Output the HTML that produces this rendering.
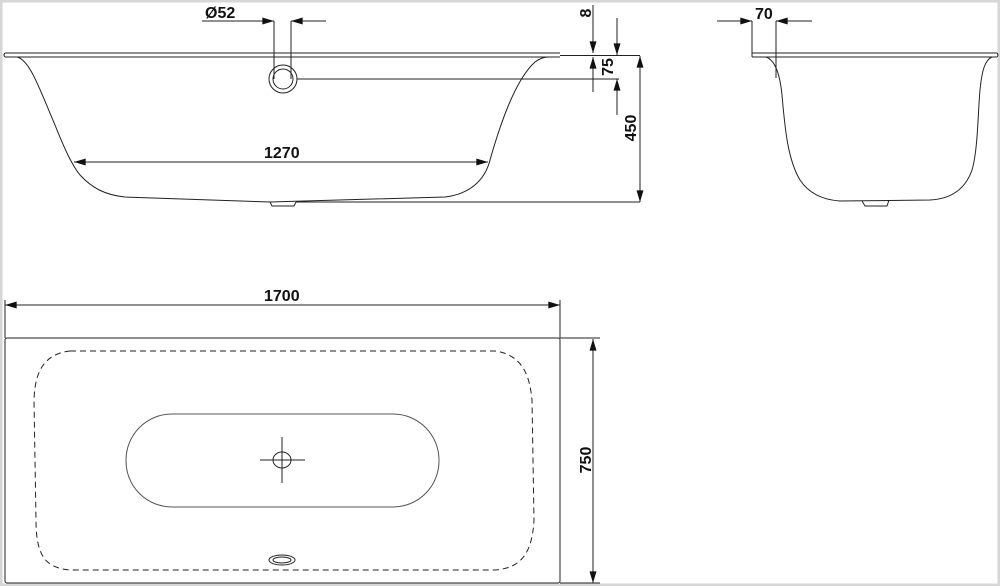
<!DOCTYPE html>
<html><head><meta charset="utf-8"><style>
html,body{margin:0;padding:0;background:#fff;}
svg{display:block;}
text{font-family:"Liberation Sans",Arial,sans-serif;font-weight:bold;font-size:16px;fill:#111;}
</style></head><body>
<svg width="1000" height="586" viewBox="0 0 1000 586" xmlns="http://www.w3.org/2000/svg">
<defs>
<marker id="a" viewBox="0 0 10 6" refX="10" refY="3" markerWidth="17" markerHeight="7" markerUnits="userSpaceOnUse" orient="auto"><path d="M0,0 L10,3 L0,6 Z" fill="#111"/></marker>
</defs>
<rect x="1" y="1" width="998" height="584" fill="#fff" stroke="#d6d6d6" stroke-width="3"/>
<g fill="none" stroke="#222" stroke-width="1">
<path d="M5,53 L560,53 M5,57 L560,57 M5,53 Q3,55 5,57" />
<path d="M560,55.5 L640,55.5"/>
<path d="M17,57 C30,60 40,90 55,125 C65,150 72,165 80,175 C92,188 105,195 125,197 L270,202 L445,197 C470,194 485,180 490,160 C500,125 515,80 535,62 C540,58 545,57 549,57"/>
<path d="M270,202 L272,206 L294,206 L296,202"/>
<path d="M296,202 L640,202"/>
<circle cx="283" cy="79" r="14"/><circle cx="283" cy="79" r="10"/>
<path d="M274,21 L274,79 M291,21 L291,79"/>
<path d="M297,79 L619,79"/>
<path d="M202,21 L274,21" marker-end="url(#a)"/>
<path d="M326,21 L291,21" marker-end="url(#a)"/>
<path d="M593,5 L593,53" marker-end="url(#a)"/>
<path d="M593,92 L593,57" marker-end="url(#a)"/>
<path d="M617,18 L617,55" marker-end="url(#a)"/>
<path d="M617,115 L617,79" marker-end="url(#a)"/>
<path d="M640,128 L640,56" marker-end="url(#a)"/>
<path d="M640,128 L640,202" marker-end="url(#a)"/>
<path d="M282,162 L74,162" marker-end="url(#a)"/>
<path d="M282,162 L488,162" marker-end="url(#a)"/>
<path d="M752,53 L997,53 M752,57 L997,57 M997,53 Q999,55 997,57 M752,53 L752,57"/>
<path d="M766,57 C775,60 780,75 782,95 C785,130 788,160 800,180 C810,195 825,200 840,201 L930,200 C950,199 965,190 972,170 C978,150 978,110 980,90 C982,70 985,60 992,57"/>
<path d="M862,201 L865,206 L887,206 L889,200"/>
<path d="M752,21 L752,53 M776,21 L776,78"/>
<path d="M717,21 L752,21" marker-end="url(#a)"/>
<path d="M812,21 L776,21" marker-end="url(#a)"/>
<rect x="5" y="338" width="555" height="245" rx="2"/>
<path d="M5,300 L5,338 M560,300 L560,338 M560,338 L600,338 M560,583 L600,583"/>
<path d="M282,305 L5,305" marker-end="url(#a)"/>
<path d="M282,305 L560,305" marker-end="url(#a)"/>
<path d="M593,460 L593,339" marker-end="url(#a)"/>
<path d="M593,460 L593,583" marker-end="url(#a)"/>
<path d="M70,351 L495,351 C525,355 530,380 532,400 L534,520 C532,555 520,568 495,570 L70,570 C45,568 36,555 36,520 L34,400 C35,370 45,354 70,351 Z" stroke-dasharray="6,4"/>
<rect x="126" y="414" width="313" height="93" rx="46" stroke="#555"/>
<path d="M260,460 L305,460 M282,437 L282,483"/>
<ellipse cx="282" cy="460" rx="9" ry="8"/>
<ellipse cx="282" cy="560" rx="13" ry="5"/><ellipse cx="282" cy="560" rx="9" ry="3"/>
</g>
<text x="205" y="18">Ø52</text>
<text x="264" y="158">1270</text>
<text x="755" y="19">70</text>
<text x="264" y="301">1700</text>
<text transform="translate(591,13) rotate(-90)" text-anchor="middle">8</text>
<text transform="translate(613,67) rotate(-90)" text-anchor="middle">75</text>
<text transform="translate(636,128) rotate(-90)" text-anchor="middle">450</text>
<text transform="translate(591,460) rotate(-90)" text-anchor="middle">750</text>
</svg>
</body></html>
